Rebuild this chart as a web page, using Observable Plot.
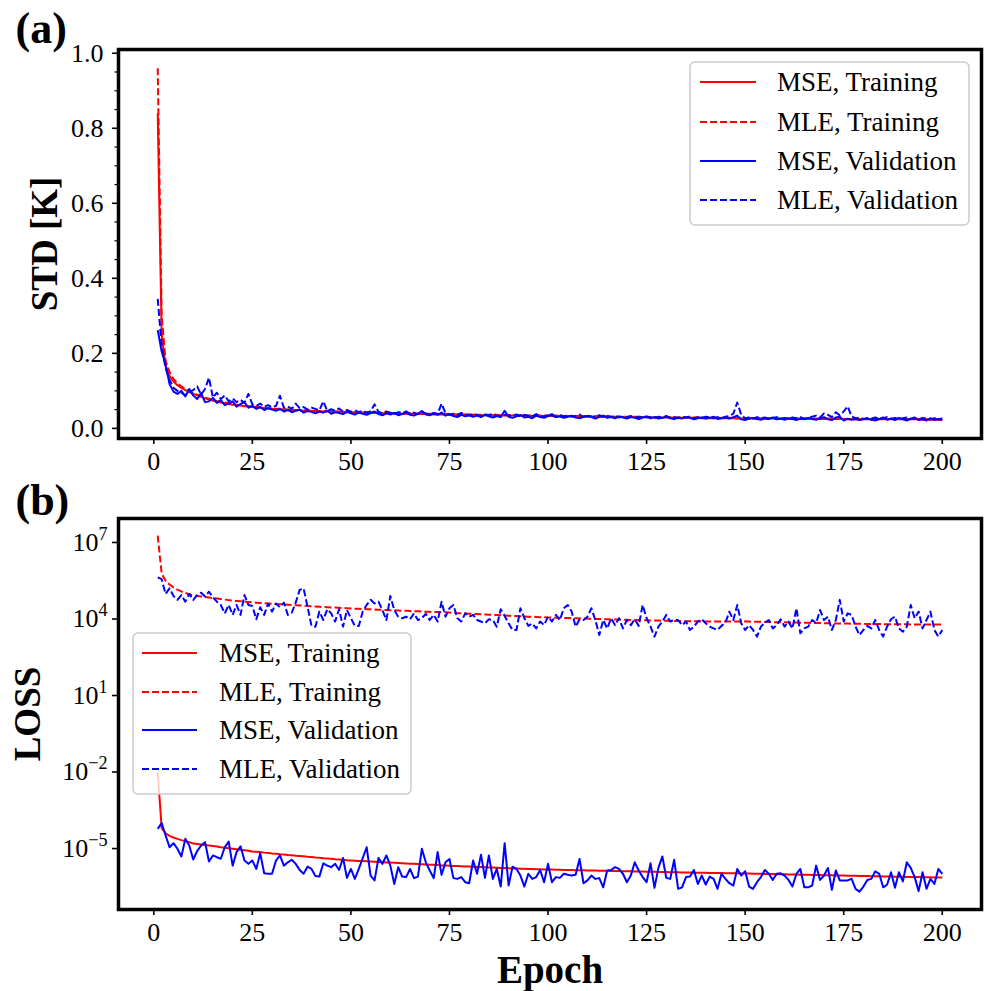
<!DOCTYPE html>
<html><head><meta charset="utf-8">
<script src="https://cdn.jsdelivr.net/npm/d3@7"></script>
<script src="https://cdn.jsdelivr.net/npm/@observablehq/plot@0.6"></script>
<style>
html,body{margin:0;padding:0;background:#fff;}
#chart{position:relative;width:984px;height:991px;background:#fff;}
#chart svg{display:block;overflow:visible;}
</style></head><body><div id="chart"></div>
<script>
const FONT = '"Liberation Serif","Times New Roman",Times,serif';

// ---------- data ----------
const epochs = d3.range(1, 201);
const seriesNames = ["MSE, Training", "MLE, Training", "MSE, Validation", "MLE, Validation"];
const xTicks = [0, 25, 50, 75, 100, 125, 150, 175, 200];
const yTicksA = [0, 0.2, 0.4, 0.6, 0.8, 1.0];
const yMinorA = [0.05, 0.1, 0.15, 0.25, 0.3, 0.35, 0.45, 0.5, 0.55, 0.65, 0.7, 0.75, 0.85, 0.9, 0.95];
const yTicksB = [1e-5, 1e-2, 1e1, 1e4, 1e7];

// Panel (a): STD [K]
const mseTrainA = [0.84,0.25,0.165,0.14,0.125,0.115,0.108,0.102,0.097,0.092,
0.088,0.084,0.080,0.077,0.074,0.071,0.069,0.067,0.065,0.063,
0.062,0.061,0.059,0.058,0.057,0.056,0.055,0.054,0.053,0.052,
0.051,0.051,0.050,0.049,0.049,0.048,0.048,0.047,0.047,0.046,
0.046,0.045,0.045,0.045,0.044,0.044,0.044,0.043,0.043,0.043,
0.042,0.042,0.042,0.041,0.041,0.041,0.041,0.040,0.040,0.040,
0.040,0.039,0.039,0.039,0.039,0.038,0.038,0.038,0.038,0.038,
0.037,0.037,0.037,0.037,0.037,0.036,0.036,0.036,0.036,0.036,
0.036,0.035,0.035,0.035,0.035,0.035,0.035,0.034,0.034,0.034,
0.034,0.034,0.034,0.034,0.033,0.033,0.033,0.033,0.033,0.033,
0.033,0.033,0.032,0.032,0.032,0.032,0.032,0.032,0.032,0.031,
0.031,0.031,0.031,0.031,0.031,0.031,0.030,0.030,0.030,0.030,
0.030,0.030,0.030,0.030,0.029,0.029,0.029,0.029,0.029,0.029,
0.029,0.028,0.028,0.028,0.028,0.028,0.028,0.028,0.027,0.027,
0.027,0.027,0.027,0.027,0.027,0.027,0.027,0.026,0.026,0.026,
0.026,0.026,0.026,0.026,0.026,0.026,0.026,0.026,0.025,0.025,
0.025,0.025,0.025,0.025,0.025,0.025,0.025,0.025,0.025,0.025,
0.025,0.025,0.025,0.025,0.025,0.024,0.024,0.024,0.024,0.024,
0.024,0.024,0.024,0.024,0.024,0.024,0.024,0.024,0.024,0.024,
0.024,0.024,0.024,0.024,0.023,0.023,0.023,0.023,0.023,0.023];

const mleTrainA = [0.96,0.30,0.18,0.15,0.132,0.12,0.112,0.105,0.099,0.094,
0.090,0.086,0.082,0.079,0.076,0.073,0.071,0.069,0.067,0.065,
0.063,0.062,0.060,0.059,0.058,0.057,0.056,0.055,0.054,0.053,
0.052,0.052,0.051,0.050,0.050,0.049,0.049,0.048,0.048,0.047,
0.047,0.046,0.046,0.046,0.045,0.045,0.045,0.044,0.044,0.044,
0.043,0.043,0.043,0.042,0.042,0.042,0.042,0.041,0.041,0.041,
0.041,0.040,0.040,0.040,0.040,0.039,0.039,0.039,0.039,0.039,
0.038,0.038,0.038,0.038,0.038,0.037,0.037,0.037,0.037,0.037,
0.037,0.036,0.036,0.036,0.036,0.036,0.036,0.035,0.035,0.035,
0.035,0.035,0.035,0.035,0.034,0.034,0.034,0.034,0.034,0.034,
0.034,0.034,0.033,0.033,0.033,0.033,0.033,0.033,0.033,0.032,
0.032,0.032,0.032,0.032,0.032,0.032,0.031,0.031,0.031,0.031,
0.031,0.031,0.031,0.031,0.030,0.030,0.030,0.030,0.030,0.030,
0.030,0.029,0.029,0.029,0.029,0.029,0.029,0.029,0.028,0.028,
0.028,0.028,0.028,0.028,0.028,0.028,0.028,0.027,0.027,0.027,
0.027,0.027,0.027,0.027,0.027,0.027,0.027,0.027,0.026,0.026,
0.026,0.026,0.026,0.026,0.026,0.026,0.026,0.026,0.026,0.026,
0.026,0.026,0.026,0.026,0.026,0.025,0.025,0.025,0.025,0.025,
0.025,0.025,0.025,0.025,0.025,0.025,0.025,0.025,0.025,0.025,
0.025,0.025,0.025,0.025,0.024,0.024,0.024,0.024,0.024,0.024];

const mseValidA = [0.262,0.205,0.17,0.118,0.098,0.092,0.100,0.085,0.105,0.088,
0.078,0.094,0.070,0.072,0.081,0.068,0.075,0.062,0.066,0.072,
0.058,0.065,0.070,0.055,0.060,0.052,0.057,0.049,0.054,0.050,
0.047,0.052,0.045,0.049,0.043,0.047,0.050,0.042,0.046,0.044,
0.040,0.045,0.042,0.047,0.039,0.043,0.041,0.038,0.044,0.040,
0.037,0.042,0.039,0.036,0.041,0.045,0.038,0.035,0.040,0.037,
0.041,0.035,0.038,0.043,0.036,0.034,0.039,0.046,0.037,0.035,
0.040,0.036,0.042,0.034,0.038,0.033,0.030,0.036,0.032,0.035,
0.031,0.034,0.030,0.036,0.032,0.029,0.033,0.030,0.047,0.031,
0.028,0.032,0.035,0.029,0.031,0.027,0.034,0.030,0.028,0.033,
0.038,0.030,0.032,0.028,0.031,0.034,0.029,0.027,0.031,0.033,
0.030,0.026,0.031,0.034,0.028,0.030,0.027,0.032,0.029,0.026,
0.030,0.028,0.025,0.029,0.031,0.027,0.030,0.026,0.028,0.031,
0.027,0.025,0.029,0.026,0.030,0.028,0.024,0.027,0.029,0.026,
0.028,0.031,0.025,0.027,0.029,0.026,0.030,0.034,0.024,0.022,
0.026,0.028,0.025,0.023,0.027,0.025,0.029,0.024,0.026,0.023,
0.027,0.025,0.022,0.026,0.024,0.028,0.025,0.023,0.027,0.030,
0.024,0.022,0.029,0.031,0.021,0.026,0.023,0.025,0.022,0.024,
0.026,0.023,0.021,0.025,0.029,0.023,0.026,0.022,0.028,0.024,
0.021,0.026,0.029,0.022,0.025,0.021,0.027,0.023,0.025,0.022];

const mleValidA = [0.345,0.22,0.16,0.13,0.108,0.100,0.095,0.088,0.097,0.102,
0.112,0.090,0.105,0.135,0.082,0.095,0.078,0.088,0.072,0.080,
0.070,0.076,0.068,0.092,0.064,0.060,0.066,0.058,0.062,0.056,
0.060,0.087,0.055,0.058,0.052,0.066,0.054,0.057,0.050,0.055,
0.052,0.048,0.072,0.046,0.051,0.047,0.053,0.045,0.049,0.044,
0.048,0.043,0.047,0.042,0.046,0.064,0.044,0.040,0.045,0.042,
0.038,0.043,0.041,0.045,0.039,0.042,0.038,0.044,0.040,0.037,
0.041,0.039,0.066,0.040,0.036,0.039,0.035,0.041,0.037,0.034,
0.038,0.036,0.033,0.037,0.035,0.039,0.034,0.032,0.036,0.035,
0.033,0.037,0.031,0.036,0.034,0.032,0.038,0.033,0.031,0.035,
0.034,0.030,0.036,0.032,0.035,0.031,0.033,0.037,0.030,0.034,
0.032,0.029,0.035,0.031,0.033,0.030,0.034,0.029,0.032,0.030,
0.033,0.029,0.031,0.028,0.032,0.030,0.027,0.031,0.029,0.033,
0.028,0.030,0.027,0.031,0.029,0.032,0.027,0.030,0.028,0.031,
0.029,0.027,0.030,0.028,0.031,0.033,0.039,0.069,0.036,0.027,
0.029,0.026,0.030,0.027,0.029,0.025,0.028,0.030,0.026,0.028,
0.025,0.029,0.027,0.030,0.026,0.028,0.031,0.034,0.029,0.040,
0.036,0.030,0.043,0.035,0.045,0.059,0.032,0.027,0.029,0.025,
0.028,0.026,0.029,0.025,0.027,0.030,0.026,0.028,0.025,0.027,
0.029,0.025,0.027,0.024,0.028,0.026,0.024,0.027,0.025,0.026];

// Panel (b): LOSS, stored as log10(loss)
const mseTrainBLog10 = [-2.0,-4.2,-4.4,-4.5,-4.57,-4.62,-4.67,-4.71,-4.75,-4.8,
-4.82,-4.84,-4.86,-4.88,-4.9,-4.92,-4.95,-4.97,-4.99,-5.01,
-5.03,-5.05,-5.07,-5.09,-5.12,-5.13,-5.14,-5.16,-5.17,-5.19,
-5.2,-5.22,-5.23,-5.25,-5.26,-5.28,-5.29,-5.3,-5.32,-5.33,
-5.35,-5.36,-5.38,-5.39,-5.4,-5.42,-5.43,-5.44,-5.46,-5.47,
-5.48,-5.49,-5.49,-5.5,-5.51,-5.52,-5.53,-5.54,-5.55,-5.55,
-5.56,-5.57,-5.58,-5.59,-5.6,-5.6,-5.61,-5.62,-5.63,-5.64,
-5.64,-5.65,-5.66,-5.66,-5.67,-5.68,-5.68,-5.69,-5.7,-5.7,
-5.71,-5.72,-5.72,-5.73,-5.74,-5.74,-5.75,-5.76,-5.76,-5.77,
-5.78,-5.78,-5.79,-5.79,-5.8,-5.8,-5.81,-5.81,-5.82,-5.82,
-5.82,-5.83,-5.83,-5.84,-5.84,-5.84,-5.85,-5.85,-5.85,-5.86,
-5.86,-5.86,-5.87,-5.87,-5.87,-5.88,-5.88,-5.88,-5.89,-5.89,
-5.89,-5.9,-5.9,-5.9,-5.91,-5.91,-5.91,-5.92,-5.92,-5.92,
-5.93,-5.93,-5.93,-5.94,-5.94,-5.94,-5.95,-5.95,-5.95,-5.95,
-5.96,-5.96,-5.96,-5.96,-5.97,-5.97,-5.97,-5.97,-5.98,-5.98,
-5.98,-5.99,-5.99,-5.99,-6.0,-6.0,-6.0,-6.01,-6.01,-6.01,
-6.02,-6.02,-6.02,-6.03,-6.03,-6.03,-6.04,-6.04,-6.04,-6.05,
-6.05,-6.05,-6.06,-6.06,-6.06,-6.07,-6.07,-6.07,-6.08,-6.08,
-6.08,-6.09,-6.09,-6.09,-6.1,-6.1,-6.1,-6.11,-6.11,-6.11,
-6.12,-6.12,-6.12,-6.12,-6.13,-6.13,-6.13,-6.14,-6.14,-6.14];

const mleTrainBLog10 = [7.27,5.78,5.5,5.35,5.24,5.15,5.08,5.02,4.97,4.92,
4.9,4.88,4.86,4.84,4.82,4.8,4.78,4.76,4.74,4.72,
4.71,4.7,4.68,4.67,4.65,4.64,4.63,4.62,4.61,4.6,
4.59,4.58,4.57,4.56,4.55,4.54,4.53,4.52,4.51,4.5,
4.49,4.48,4.47,4.46,4.45,4.45,4.44,4.43,4.42,4.41,
4.4,4.4,4.39,4.38,4.38,4.37,4.36,4.36,4.35,4.34,
4.34,4.33,4.32,4.32,4.31,4.3,4.3,4.29,4.28,4.28,
4.27,4.27,4.26,4.26,4.25,4.24,4.23,4.23,4.22,4.21,
4.2,4.2,4.19,4.18,4.17,4.16,4.16,4.15,4.14,4.13,
4.12,4.12,4.11,4.1,4.09,4.09,4.08,4.07,4.07,4.06,
4.06,4.05,4.05,4.04,4.04,4.03,4.03,4.02,4.02,4.01,
4.01,4.0,4.0,3.99,3.99,3.98,3.98,3.98,3.97,3.97,
3.96,3.96,3.96,3.95,3.95,3.94,3.94,3.94,3.93,3.93,
3.93,3.92,3.92,3.92,3.91,3.91,3.91,3.91,3.9,3.9,
3.9,3.9,3.9,3.9,3.9,3.9,3.9,3.9,3.9,3.9,
3.9,3.89,3.89,3.89,3.88,3.88,3.88,3.87,3.87,3.87,
3.86,3.86,3.86,3.85,3.85,3.85,3.84,3.84,3.84,3.83,
3.83,3.83,3.82,3.82,3.82,3.82,3.81,3.81,3.81,3.81,
3.8,3.8,3.8,3.8,3.8,3.79,3.79,3.79,3.79,3.79,
3.79,3.78,3.78,3.78,3.78,3.78,3.78,3.78,3.78,3.78];

const mseValidBLog10 = [-4.23,-4.0,-4.49,-4.95,-4.79,-5.01,-5.31,-4.62,-4.88,-5.43,
-5.1,-4.88,-4.75,-5.51,-5.27,-5.34,-5.4,-4.95,-4.73,-5.67,
-5.14,-4.91,-5.47,-5.6,-5.47,-5.8,-5.18,-5.97,-5.99,-5.99,
-5.47,-5.27,-5.67,-5.54,-5.44,-5.6,-5.84,-5.99,-5.71,-5.8,
-6.08,-6.1,-5.58,-5.67,-5.73,-5.6,-5.84,-5.37,-6.15,-5.8,
-6.19,-5.8,-5.37,-4.95,-6.06,-6.25,-5.37,-5.6,-5.27,-5.67,
-6.39,-5.73,-6.1,-6.12,-5.8,-6.16,-6.1,-5.01,-5.54,-5.86,
-6.16,-5.14,-6.03,-5.54,-5.41,-6.16,-6.19,-6.12,-6.32,-6.36,
-5.47,-5.99,-5.24,-6.15,-5.27,-6.19,-5.8,-6.49,-4.79,-6.45,
-5.71,-5.8,-6.06,-6.49,-5.99,-6.19,-6.12,-5.84,-6.32,-5.6,
-6.32,-6.12,-6.15,-5.99,-6.03,-6.06,-6.03,-5.41,-6.36,-6.25,
-6.06,-6.19,-6.16,-6.52,-5.86,-5.84,-5.73,-5.8,-5.99,-6.32,
-6.06,-5.54,-5.86,-6.12,-6.32,-5.58,-6.54,-5.76,-5.31,-6.15,
-6.19,-5.44,-6.58,-6.52,-6.12,-6.1,-5.84,-6.39,-6.06,-6.41,
-6.1,-6.19,-6.58,-5.99,-6.19,-6.36,-6.45,-5.8,-6.06,-5.89,
-6.49,-6.58,-6.32,-6.12,-5.84,-5.99,-6.23,-5.99,-5.97,-6.06,
-6.23,-6.49,-5.99,-5.8,-6.52,-6.52,-6.45,-5.67,-6.23,-6.06,
-5.76,-6.62,-5.86,-6.25,-6.25,-6.25,-6.19,-6.58,-6.69,-6.49,
-6.23,-6.19,-5.89,-5.99,-6.52,-6.42,-5.93,-6.54,-5.93,-6.29,
-5.54,-5.76,-6.12,-6.67,-5.93,-6.58,-6.19,-6.39,-5.8,-5.99];

const mleValidBLog10 = [5.63,5.56,4.98,5.2,4.9,4.75,4.94,4.68,4.98,4.75,
4.94,5.03,4.88,5.07,4.85,4.68,4.55,4.22,4.55,4.16,
4.55,4.16,4.94,4.55,4.51,3.99,4.46,4.16,4.61,4.29,
4.61,4.46,4.64,4.16,4.25,4.64,5.14,5.2,4.48,3.73,
3.7,4.29,3.96,4.38,4.22,3.9,4.38,3.7,4.35,4.03,
3.73,3.73,4.29,4.55,4.75,4.61,4.68,4.35,3.96,4.9,
4.35,4.09,4.03,4.09,3.99,4.22,3.96,4.03,4.2,3.96,
4.16,3.9,4.68,4.09,4.42,4.55,4.03,3.9,4.22,4.09,
4.16,3.96,3.9,3.83,3.99,3.96,3.7,4.38,4.12,3.83,
3.57,3.57,4.42,4.03,3.73,3.83,3.63,3.9,3.76,4.09,
3.9,4.16,3.96,4.42,4.55,4.29,3.7,3.99,3.96,4.09,
4.42,3.96,3.37,3.96,3.63,4.03,3.76,4.03,3.63,3.96,
3.76,3.99,3.73,4.55,4.03,3.7,3.31,3.7,3.9,4.16,
3.9,3.96,3.96,3.76,3.9,3.57,3.7,3.9,3.99,3.83,
3.7,3.63,3.57,3.73,3.86,4.29,3.96,4.55,3.83,3.57,
3.76,3.57,3.31,3.7,3.86,3.96,3.63,3.76,3.99,3.7,
3.9,3.63,4.42,3.44,3.63,3.7,3.96,3.83,4.35,3.96,
4.09,3.57,3.96,4.75,3.9,4.22,4.16,3.7,3.37,3.57,
3.73,3.63,3.96,3.57,3.31,3.7,3.99,4.09,3.63,3.5,
3.7,4.55,4.03,4.29,3.63,3.96,4.29,3.57,3.31,3.57];

// ---------- styling ----------
const RED = "#ff0000", BLUE = "#0000ff", DASH = "7,3";
const styles = [
  {stroke: RED, dash: null},
  {stroke: RED, dash: DASH},
  {stroke: BLUE, dash: null},
  {stroke: BLUE, dash: DASH}
];

function toRows(values, transform = v => v) {
  return epochs.map((e, i) => ({epoch: e, value: transform(values[i])}));
}
const seriesA = [mseTrainA, mleTrainA, mseValidA, mleValidA].map(v => toRows(v));
const seriesB = [mseTrainBLog10, mleTrainBLog10, mseValidBLog10, mleValidBLog10].map(v => toRows(v, l => Math.pow(10, l)));

function lineMarks(series) {
  return series.map((rows, i) => Plot.line(rows, {
    x: "epoch", y: "value", stroke: styles[i].stroke, strokeWidth: 2,
    strokeDasharray: styles[i].dash || undefined, strokeLinejoin: "round", strokeLinecap: "butt"
  }));
}

const W = 984;
const TICK_FS = 26;
const common = {fontFamily: FONT, color: "black", background: "transparent", overflow: "visible"};
const labelOpts = {fontWeight: "bold", fill: "black", textAnchor: "middle", lineAnchor: "middle"};

const plotA = Plot.plot({
  width: W, height: 490,
  marginTop: 49, marginBottom: 52, marginLeft: 118, marginRight: 3,
  style: common,
  x: {domain: [-8.95, 209.95]},
  y: {domain: [-0.027, 1.010]},
  marks: [
    ...lineMarks(seriesA),
    Plot.axisX(xTicks, {tickSize: 6, tickPadding: 7, fontSize: TICK_FS, label: null, strokeWidth: 1.6}),
    Plot.axisY(yTicksA, {tickSize: 6, tickPadding: 9, fontSize: TICK_FS, label: null, strokeWidth: 1.6, tickFormat: d => d.toFixed(1)}),
    Plot.axisY(yMinorA, {tickSize: 3.5, label: null, strokeWidth: 1.2, tickFormat: () => ""}),
    Plot.frame({stroke: "black", strokeWidth: 3.5}),
    Plot.text(["STD [K]"], {...labelOpts, text: d => d, frameAnchor: "left", dx: -73, rotate: -90, fontSize: 37}),
    Plot.text(["(a)"], {...labelOpts, text: d => d, frameAnchor: "top-left", dx: -103, dy: -21, textAnchor: "start", fontSize: 44})
  ]
});

const plotB = Plot.plot({
  width: W, height: 501,
  marginTop: 28, marginBottom: 82, marginLeft: 118, marginRight: 3,
  style: common,
  x: {domain: [-8.95, 209.95]},
  y: {type: "log", domain: [Math.pow(10, -7.39), Math.pow(10, 7.94)]},
  marks: [
    ...lineMarks(seriesB),
    Plot.axisX(xTicks, {tickSize: 6, tickPadding: 7, fontSize: TICK_FS, label: null, strokeWidth: 1.6}),
    Plot.axisY(yTicksB, {tickSize: 6, tickPadding: 5, fontSize: TICK_FS, label: null, strokeWidth: 1.6,
      tickFormat: d => "10^" + Math.round(Math.log10(d))}),
    Plot.frame({stroke: "black", strokeWidth: 3.5}),
    Plot.text(["LOSS"], {...labelOpts, text: d => d, frameAnchor: "left", dx: -90, rotate: -90, fontSize: 37}),
    Plot.text(["Epoch"], {...labelOpts, text: d => d, frameAnchor: "bottom", dy: 61, fontSize: 39}),
    Plot.text(["(b)"], {...labelOpts, text: d => d, frameAnchor: "top-left", dx: -103, dy: -18, textAnchor: "start", fontSize: 44})
  ]
});

// superscript exponents on the log axis labels
d3.select(plotB).selectAll('[aria-label="y-axis tick label"] text').each(function() {
  const t = this.textContent;
  if (!t.includes("^")) return;
  const [base, exp] = t.split("^");
  const sel = d3.select(this);
  sel.text(null);
  sel.append("tspan").text(base);
  sel.append("tspan").attr("dy", "-0.62em").attr("font-size", "0.7em")
    .text(exp.replace("-", "\u2212"));
});

// legends
function addLegend(svg, box, rowsY, lineX, textX) {
  const g = d3.select(svg).append("g").attr("font-family", FONT).attr("text-anchor", "start");
  g.append("rect").attr("x", box.x).attr("y", box.y).attr("width", box.w).attr("height", box.h)
    .attr("rx", 5).attr("fill", "white").attr("fill-opacity", 0.8)
    .attr("stroke", "#cccccc").attr("stroke-width", 1.5);
  seriesNames.forEach((name, i) => {
    g.append("line").attr("x1", lineX[0]).attr("x2", lineX[1]).attr("y1", rowsY[i]).attr("y2", rowsY[i])
      .attr("stroke", styles[i].stroke).attr("stroke-width", 2)
      .attr("stroke-dasharray", styles[i].dash);
    g.append("text").attr("x", textX).attr("y", rowsY[i]).attr("dy", "0.35em")
      .attr("text-anchor", "start")
      .attr("font-size", 27).attr("fill", "black").text(name);
  });
}
addLegend(plotA, {x: 690, y: 62, w: 279, h: 163}, [82, 122, 161, 200], [700, 756], 777);
addLegend(plotB, {x: 133, y: 143, w: 278, h: 161}, [163, 202, 240, 279], [142, 197], 219);

const chart = document.getElementById("chart");
chart.appendChild(plotA);
chart.appendChild(plotB);
</script></body></html>
